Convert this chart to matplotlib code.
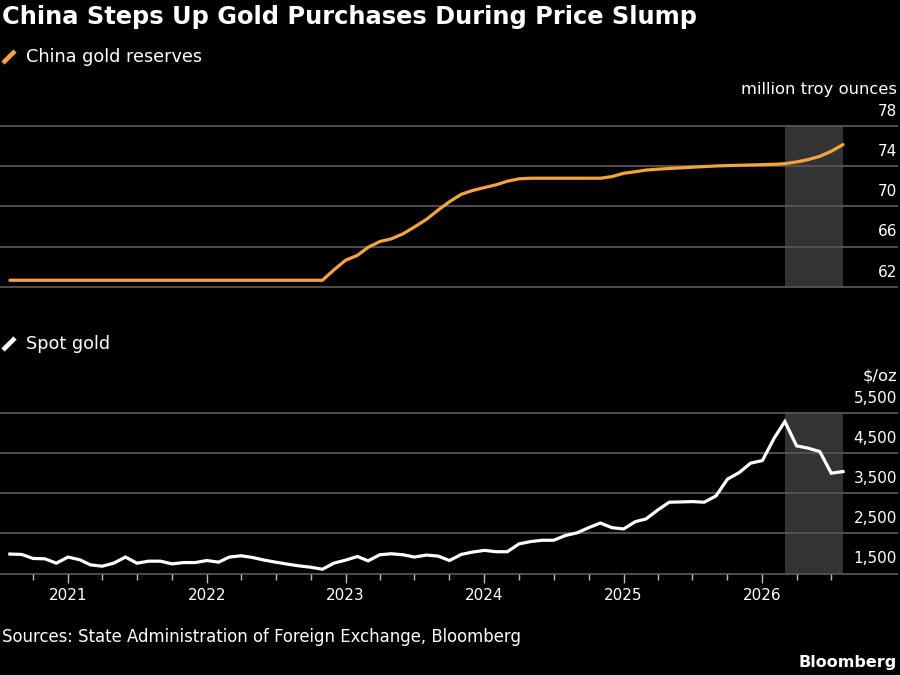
import pandas as pd
import matplotlib
matplotlib.use('Agg')
import matplotlib.pyplot as plt
from matplotlib.lines import Line2D

# Monthly observations, Aug 2020 - Aug 2026
months = pd.date_range('2020-08-01', '2026-08-01', freq='MS')

# China gold reserves (million troy ounces)
reserves = [
    62.64, 62.64, 62.64, 62.64, 62.64, 62.64, 62.64, 62.64, 62.64, 62.64,
    62.64, 62.64, 62.64, 62.64, 62.64, 62.64, 62.64, 62.64, 62.64, 62.64,
    62.64, 62.64, 62.64, 62.64, 62.64, 62.64, 62.64, 62.64, 63.67, 64.64,
    65.12, 65.92, 66.50, 66.76, 67.27, 67.95, 68.69, 69.62, 70.46, 71.20,
    71.58, 71.87, 72.15, 72.50, 72.74, 72.80, 72.80, 72.80, 72.80, 72.80,
    72.80, 72.80, 72.96, 73.29, 73.45, 73.61, 73.70, 73.77, 73.83, 73.90,
    73.96, 74.02, 74.06, 74.09, 74.12, 74.15, 74.19, 74.25, 74.42, 74.65,
    74.98, 75.48, 76.15,
]

# Spot gold ($/oz)
gold = [
    1986, 1976, 1875, 1867, 1758, 1910, 1842, 1715, 1682, 1758,
    1910, 1758, 1808, 1808, 1740, 1773, 1773, 1824, 1783, 1910,
    1943, 1900, 1834, 1783, 1733, 1690, 1657, 1606, 1758, 1834,
    1925, 1816, 1968, 1993, 1968, 1910, 1960, 1935, 1824, 1976,
    2036, 2077, 2044, 2044, 2239, 2297, 2330, 2330, 2449, 2517,
    2644, 2760, 2645, 2612, 2795, 2862, 3087, 3280, 3287, 3295,
    3280, 3437, 3855, 4020, 4255, 4320, 4880, 5295, 4687, 4630,
    4545, 4005, 4045,
]

reserve_ticks = [62, 66, 70, 74, 78]
reserve_labels = ['62', '66', '70', '74', '78']
gold_ticks = [1500, 2500, 3500, 4500, 5500]
gold_labels = ['1,500', '2,500', '3,500', '4,500', '5,500']

shade_start = pd.Timestamp('2026-03-01')
shade_end = pd.Timestamp('2026-08-01')
xlim = [pd.Timestamp('2020-07-06'), pd.Timestamp('2026-12-21')]

BG = 'black'
GRID = '#555555'
SHADE = '#333333'
ORANGE = '#f5a33c'
TXT = 'white'
FS = 11

plt.rcParams['font.family'] = 'DejaVu Sans'

W, H = 900, 675
fig = plt.figure(figsize=(9, 6.75), dpi=100, facecolor=BG)


def px_axes(top, bottom):
    return fig.add_axes([0, 1 - bottom / H, 897 / W, (bottom - top) / H])


def style_panel(ax, ticks, labels, unit):
    ax.set_facecolor(BG)
    for s in ax.spines.values():
        s.set_visible(False)
    ax.set_xlim(xlim)
    ax.set_ylim(ticks[0], ticks[-1])
    ax.set_yticks([])
    ax.axvspan(shade_start, shade_end, color=SHADE, lw=0, zorder=0)
    for t, lab in zip(ticks, labels):
        ax.axhline(t, color=GRID, lw=1.3, zorder=1, clip_on=False)
        ax.annotate(lab, xy=(1, t), xycoords=('axes fraction', 'data'),
                    xytext=(0, 10.5), textcoords='offset points',
                    ha='right', va='center', color=TXT, fontsize=FS)
    ax.annotate(unit, xy=(1, ticks[-1]), xycoords=('axes fraction', 'data'),
                xytext=(0, 26.5), textcoords='offset points',
                ha='right', va='center', color=TXT, fontsize=11.8)


# Top panel: reserves
ax1 = px_axes(126, 286.7)
style_panel(ax1, reserve_ticks, reserve_labels, 'million troy ounces')
ax1.plot(months, reserves, color=ORANGE, lw=2.3, zorder=3, solid_capstyle='round')
ax1.set_xticks([])

# Bottom panel: spot gold
ax2 = px_axes(413.3, 573.5)
style_panel(ax2, gold_ticks, gold_labels, '$/oz')
ax2.plot(months, gold, color='white', lw=2.3, zorder=3, solid_joinstyle='miter')

quarters = [d for d in months if d.month in (1, 4, 7, 10)]
years = [d for d in quarters if d.month == 1]
ax2.set_xticks(years)
ax2.set_xticklabels([str(d.year) for d in years])
ax2.set_xticks([d for d in quarters if d.month != 1], minor=True)
ax2.tick_params(axis='x', which='major', length=6.5, width=1, color='#bbbbbb',
                labelcolor=TXT, labelsize=FS, pad=4)
ax2.tick_params(axis='x', which='minor', length=4.3, width=1, color='#bbbbbb')

# Header, legends, footer
fig.text(2 / W, 1 - 17 / H, 'China Steps Up Gold Purchases During Price Slump',
         color=TXT, fontsize=17.4, fontweight='bold', va='center', ha='left')

fig.add_artist(Line2D([3 / W, 15 / W], [1 - 63 / H, 1 - 51 / H], color=ORANGE,
                      lw=3.3, solid_capstyle='butt'))
fig.text(26 / W, 1 - 57 / H, 'China gold reserves', color=TXT, fontsize=12.7,
         va='center', ha='left')

fig.add_artist(Line2D([3 / W, 15 / W], [1 - 350 / H, 1 - 338 / H], color='white',
                      lw=3.3, solid_capstyle='butt'))
fig.text(26 / W, 1 - 344 / H, 'Spot gold', color=TXT, fontsize=12.7,
         va='center', ha='left')

fig.text(2 / W, 1 - 637 / H, 'Sources: State Administration of Foreign Exchange, Bloomberg',
         color=TXT, fontsize=11.9, va='center', ha='left')
fig.text(897 / W, 1 - 662 / H, 'Bloomberg', color=TXT, fontsize=11.5,
         fontweight='bold', va='center', ha='right')

fig.savefig('out.png', dpi=100, facecolor=BG)
